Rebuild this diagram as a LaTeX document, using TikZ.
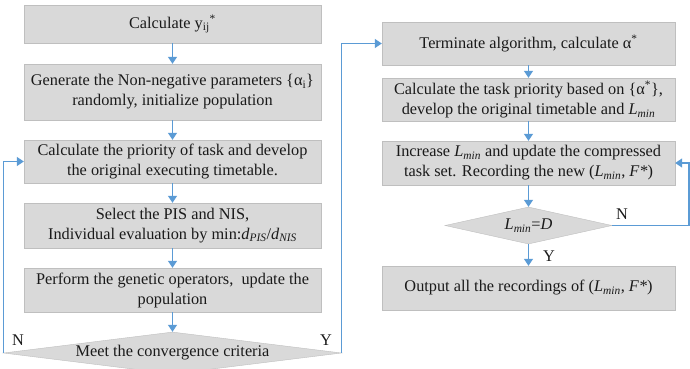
\documentclass[tikz,border=0pt]{standalone}
\usepackage{fontspec}
\setmainfont{Liberation Serif}
\usetikzlibrary{shapes.geometric,arrows.meta}
\definecolor{boxgray}{HTML}{D9D9D9}
\definecolor{edgegray}{HTML}{BFBFBF}
\definecolor{flowblue}{HTML}{5B9BD5}
\definecolor{textgray}{HTML}{1A1A1A}
\newcommand{\Lmin}{\textit{L\textsubscript{min}}}
\begin{document}
\begin{tikzpicture}[x=1pt, y=-1pt,
  procbox/.style={draw=edgegray, fill=boxgray, minimum width=297pt, inner sep=0, align=center, text=textgray, font=\fontsize{16.3}{20}\selectfont},
  rbox/.style={procbox, minimum width=293pt},
  decision/.style={diamond, draw=edgegray, fill=boxgray, inner sep=0, text=textgray, font=\fontsize{16.3}{20}\selectfont},
  lbl/.style={text=textgray, font=\fontsize{16.3}{18}\selectfont},
  flow/.style={->, draw=flowblue, line width=1.2pt},
  >={Triangle[length=7pt, width=9pt]}
]
\useasboundingbox (0,0) rectangle (690,368);

% left column
\node[procbox, minimum height=38pt] (calcy) at (172.5,24) {Calculate y\textsubscript{ij}\textsuperscript{*}};
\node[procbox, minimum height=56pt] (gen) at (172.5,92)
  {Generate the Non-negative parameters \{α\textsubscript{i}\}\\ randomly, initialize population};
\node[procbox, minimum height=43pt] (prio) at (172.5,161.5)
  {Calculate the priority of task and develop\\ the original executing timetable.};
\node[procbox, minimum height=45pt] (select) at (172.5,225.5)
  {Select the PIS and NIS,\\ Individual evaluation by min:\textit{d}\textsubscript{\textit{PIS}}/\textit{d}\textsubscript{\textit{NIS}}};
\node[procbox, minimum height=44pt] (genetic) at (172.5,290)
  {Perform the genetic operators,\ \ update the\\ population};
\node[decision, minimum width=338pt, minimum height=42pt] (conv) at (172.5,353)
  {\makebox[0pt]{Meet the convergence criteria}};

% right column
\node[rbox, minimum height=43pt] (term) at (528.5,43.5) {Terminate algorithm, calculate α\textsuperscript{*}};
\node[rbox, minimum height=43pt] (tprio) at (528.5,99.5)
  {Calculate the task priority based on \{α\textsuperscript{*}\},\\ develop the original timetable and \Lmin};
\node[rbox, minimum height=44pt] (incr) at (528.5,163)
  {Increase \Lmin\ and update the compressed\\ task set. Recording the new (\Lmin, \textit{F*})};
\node[decision, minimum width=167pt, minimum height=37pt] (lmin) at (528.5,225.5)
  {\makebox[0pt]{\Lmin=\textit{D}}};
\node[rbox, minimum height=44pt] (output) at (528.5,288)
  {Output all the recordings of (\Lmin, \textit{F*})};

% connectors
\draw[flow] (calcy) -- (gen);
\draw[flow] (gen) -- (prio);
\draw[flow] (prio) -- (select);
\draw[flow] (select) -- (genetic);
\draw[flow] (genetic) -- (conv);
\draw[flow] (conv.west) |- (prio.west);
\draw[flow] (conv.east) |- (term.west);
\draw[flow] (term) -- (tprio);
\draw[flow] (tprio) -- (incr);
\draw[flow] (incr) -- (lmin);
\draw[flow] (lmin) -- (output);
\coordinate (nturn) at (689,225.5);
\draw[flow] (lmin.east) -- (nturn) |- (incr.east);

% branch labels
\node[lbl] (nleft) at (18,340) {N};
\node[lbl] (yleft) at (326,340) {Y};
\node[lbl] (nright) at (622,214) {N};
\node[lbl] (yright) at (549,256) {Y};
\end{tikzpicture}
\end{document}
